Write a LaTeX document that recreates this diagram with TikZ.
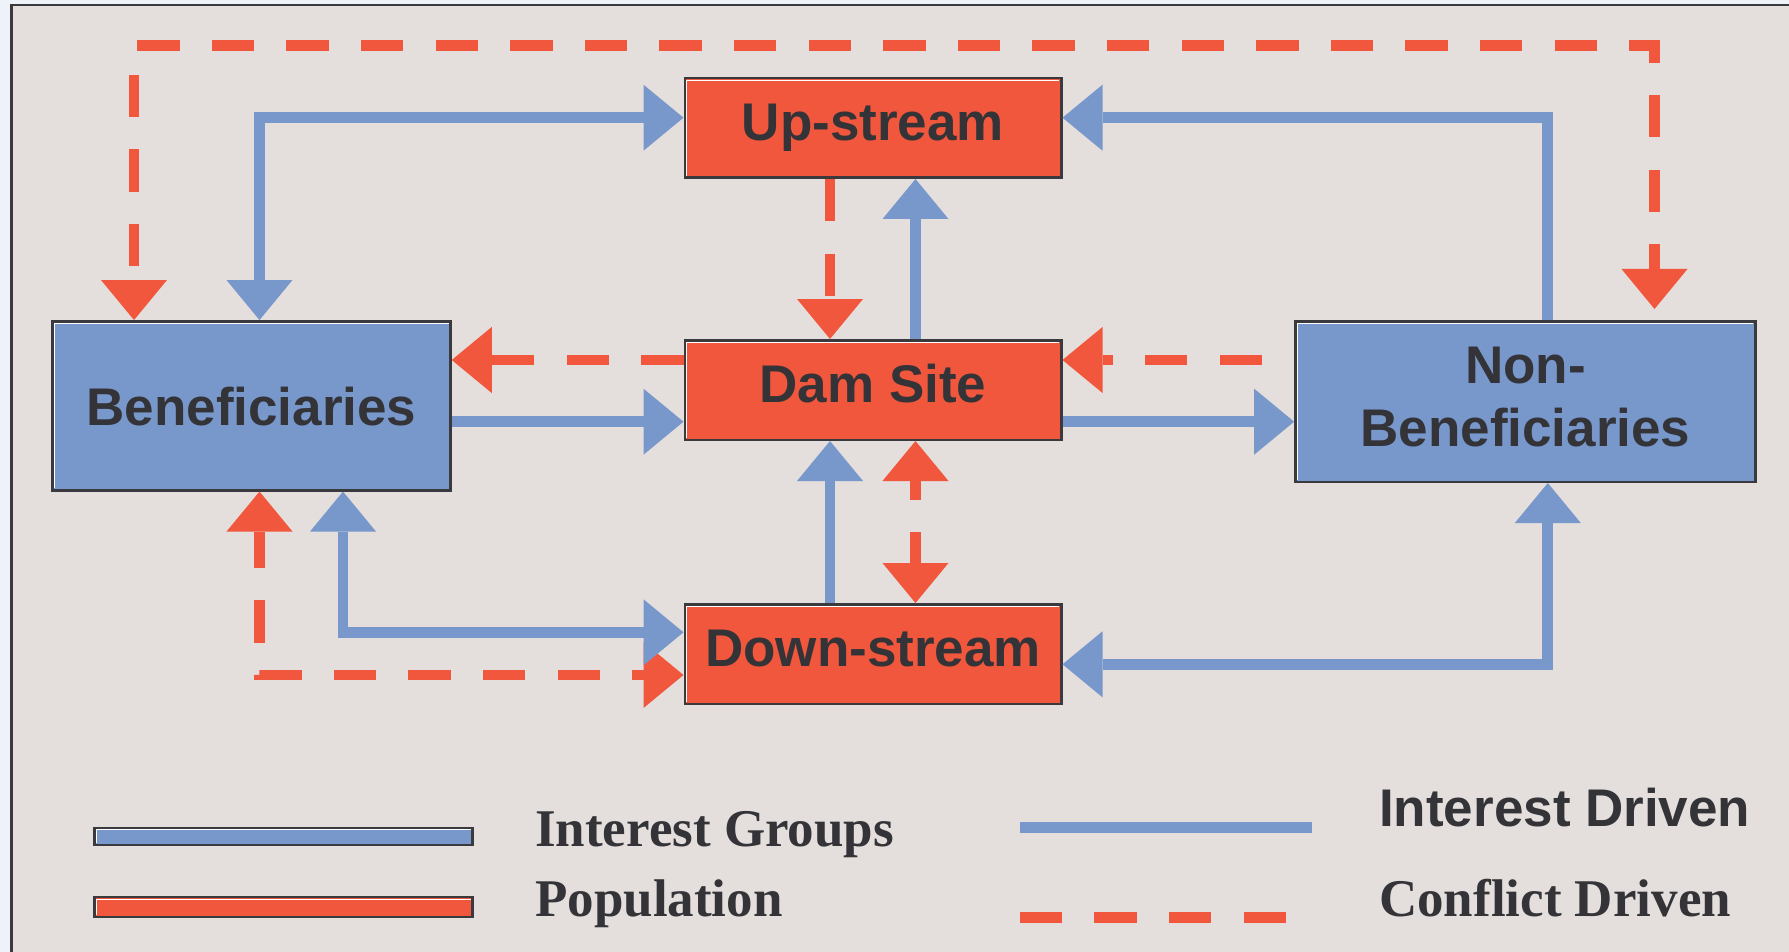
\documentclass[tikz,border=0pt]{standalone}
\usepackage{fontspec}
\setmainfont{Liberation Serif}
\setsansfont{Liberation Sans}
\usetikzlibrary{arrows.meta}

\definecolor{flowblue}{HTML}{7897CB}
\definecolor{flowred}{HTML}{F1573C}
\definecolor{panel}{HTML}{E4DFDC}
\definecolor{edge}{HTML}{3A3A3E}
\definecolor{ink}{HTML}{333338}
\definecolor{paper}{HTML}{EEF3FA}

\tikzset{
  highlight/.style={path picture={
      \draw[white, line width=1pt]
        ([shift={(2pt,2pt)}]path picture bounding box.south west)
        |- ([shift={(-2pt,-2pt)}]path picture bounding box.north east);}},
  box/.style={draw=edge, line width=2.5pt, inner sep=0pt, text=ink,
    font={\sffamily\bfseries\fontsize{53}{63}\selectfont}, highlight},
  groupbox/.style={box, fill=flowblue},
  popbox/.style={box, fill=flowred, minimum width=376.5pt, minimum height=99.5pt,
    text height=38pt, text depth=13pt},
  swatch/.style={draw=edge, line width=2.5pt, inner sep=0pt, minimum width=378pt, highlight},
  interest/.style={draw=flowblue, line width=10.7pt},
  conflict/.style={draw=flowred, line width=10.7pt, dash pattern=on 42.4pt off 32.2pt},
  serifkey/.style={anchor=base west, inner sep=0pt, text=ink,
    font={\rmfamily\bfseries\fontsize{53}{63}\selectfont}},
  sanskey/.style={anchor=base west, inner sep=0pt, text=ink,
    font={\sffamily\bfseries\fontsize{53}{63}\selectfont}},
  >={Triangle[length=40pt, width=66pt, line width=0pt]},
}

\begin{document}
\begin{tikzpicture}[x=1pt, y=-1pt]
  \useasboundingbox (0,0) rectangle (1789,952);
  \clip (0,0) rectangle (1789,952);

  % backdrop and panel frame
  \fill[paper] (0,0) rectangle (1789,952);
  \fill[panel] (11.3,5.2) rectangle (1800,970);
  \draw[edge, line width=2.5pt] (1800,5.2) -- (11.3,5.2) -- (11.3,970);

  % population nodes
  \node[popbox] (up)   at (873,128) {Up-stream};
  \node[popbox] (dam)  at (873,390) {Dam Site};
  \node[popbox] (down) at (873,654) {Down-stream};

  % interest groups
  \node[groupbox, minimum width=398pt, minimum height=169pt,
        text height=40pt, text depth=0pt] (ben) at (251.5,405.8) {Beneficiaries};
  \node[groupbox, minimum width=460pt, minimum height=160.5pt, align=center]
        (nonben) at (1525.4,401.5) {Non-\\Beneficiaries\rule[-10pt]{0pt}{0pt}};

  % routing rows and columns
  \coordinate (yTop)   at (0,45.7);
  \coordinate (yHi)    at (0,117.7);
  \coordinate (yDash)  at (0,360);
  \coordinate (yFlow)  at (0,421.7);
  \coordinate (yLowB)  at (0,632.3);
  \coordinate (yLowNB) at (0,664.3);
  \coordinate (yLowR)  at (0,675);
  \coordinate (xA) at (134,0);
  \coordinate (xB) at (259.5,0);
  \coordinate (xC) at (343,0);
  \coordinate (xD) at (830,0);
  \coordinate (xE) at (915.5,0);
  \coordinate (xF) at (1547.8,0);
  \coordinate (xG) at (1654.5,0);
  \coordinate (nbGap) at (1654.5,309);

  % outer conflict loop
  \draw[conflict, <->, dash phase=60.9pt] (xA |- ben.north) |- (xG |- yTop) -- (nbGap);

  % upper links
  \draw[interest, <->] (xB |- ben.north) |- (up.west |- yHi);
  \draw[interest, ->] (xF |- nonben.north) |- (up.east |- yHi);
  \draw[conflict, ->] (xD |- up.south) -- (xD |- dam.north);
  \draw[interest, ->] (xE |- dam.north) -- (xE |- up.south);

  % middle row
  \draw[conflict, ->] (dam.west |- yDash) -- (ben.east |- yDash);
  \draw[interest, ->] (ben.east |- yFlow) -- (dam.west |- yFlow);
  \draw[conflict, ->, dash phase=42.4pt] (nonben.west |- yDash) -- (dam.east |- yDash);
  \draw[interest, ->] (dam.east |- yFlow) -- (nonben.west |- yFlow);

  % lower links
  \draw[interest, ->] (xD |- down.north) -- (xD |- dam.south);
  \draw[conflict, <->, dash phase=23.4pt] (xE |- dam.south) -- (xE |- down.north);
  \draw[conflict, <->, dash phase=5.96pt] (xB |- ben.south) |- (down.west |- yLowR);
  \draw[interest, <->] (xC |- ben.south) |- (down.west |- yLowB);
  \draw[interest, <->] (xF |- nonben.south) |- (down.east |- yLowNB);

  % key
  \node[swatch, fill=flowblue, minimum height=17pt] (keyGroups) at (283.5,836.4) {};
  \node[swatch, fill=flowred, minimum height=20pt] (keyPop) at (283.5,907.2) {};
  \node[serifkey] (lblGroups) at (535,846) {Interest Groups};
  \node[serifkey] (lblPop) at (535,916.7) {Population};

  \coordinate (keyI1) at (1019.7,827.2);
  \coordinate (keyI2) at (1312,827.2);
  \coordinate (keyC1) at (1019.7,917.8);
  \coordinate (keyC2) at (1286.6,917.8);
  \draw[interest] (keyI1) -- (keyI2);
  \draw[conflict] (keyC1) -- (keyC2);
  \node[sanskey] (lblInt) at (1379,826.7) {Interest Driven};
  \node[serifkey] (lblConf) at (1379,916.7) {Conflict Driven};
\end{tikzpicture}
\end{document}
